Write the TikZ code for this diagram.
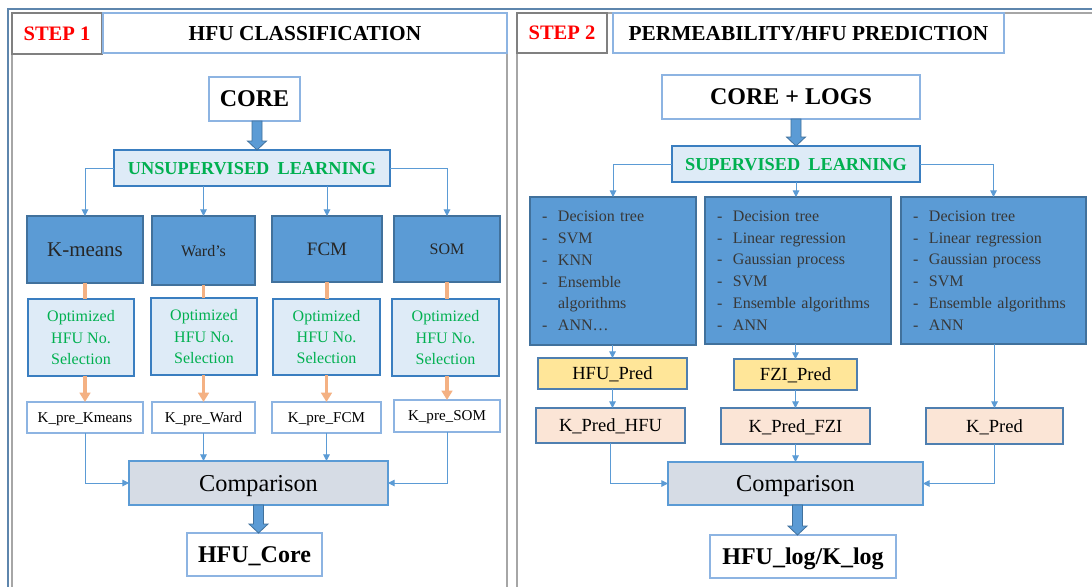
\documentclass[tikz,border=0pt]{standalone}
\usepackage{fontspec}
\setmainfont{Liberation Serif}
\usetikzlibrary{arrows.meta,calc}
\definecolor{bdark}{HTML}{5B9BD5}
\definecolor{bdarkline}{HTML}{41719C}
\definecolor{lightfill}{HTML}{DEEBF7}
\definecolor{midline}{HTML}{3A7EC0}
\definecolor{lightline}{HTML}{8DB4E2}
\definecolor{cmpfill}{HTML}{D6DCE5}
\definecolor{yellowfill}{HTML}{FFE699}
\definecolor{peach}{HTML}{FBE5D6}
\definecolor{predline}{HTML}{4F7FB0}
\definecolor{orangeln}{HTML}{F4B183}
\definecolor{greentxt}{HTML}{00B050}
\definecolor{connc}{HTML}{5B9BD5}
\definecolor{panelgray}{HTML}{A6A6A6}
\definecolor{stepgray}{HTML}{808080}
\definecolor{outerblue}{HTML}{5E86AD}
\newcommand\boxat[7]{\node[#6, minimum width={(#4-#2)*0.75pt}, minimum height={(#5-#3)*0.75pt}] (#1) at ({(#2+#4)/2},{(#3+#5)/2}) {#7};}
\newcommand\blockarr[2]{\filldraw[barrow] ($(#1)+(-5,0)$) -- ($(#2)+(-5,-9)$) -- ($(#2)+(-9.5,-9)$) -- (#2) -- ($(#2)+(9.5,-9)$) -- ($(#2)+(5,-9)$) -- ($(#1)+(5,0)$) -- cycle;}
\newcommand\li[1]{\makebox[12pt][l]{-}#1}
\tikzset{
  base0/.style={draw, inner sep=0pt, outer sep=0pt, line width=0.9pt, text=black},
  base/.style={base0, text depth=0pt},
  stepbox/.style={base, draw=stepgray, line width=0.8pt, text=red, font=\fontsize{15.4}{18}\selectfont\bfseries},
  titlebox/.style={base, fill=white, draw=lightline, font=\fontsize{16}{18}\selectfont\bfseries},
  wbig/.style={base, fill=white, draw=lightline, font=\fontsize{18}{22}\selectfont\bfseries},
  learn/.style={base, fill=lightfill, draw=midline, line width=1.1pt, text=greentxt, font=\fontsize{13.7}{17}\selectfont\bfseries},
  dark/.style={base, fill=bdark, draw=bdarkline, text=black!85},
  optbox/.style={base, fill=lightfill, draw=midline, text=greentxt, align=center, font=\fontsize{12}{16}\selectfont},
  kpre/.style={base, fill=white, draw=lightline, font=\fontsize{11.3}{14}\selectfont},
  cmp/.style={base, fill=cmpfill, draw=bdark, font=\fontsize{18.2}{22}\selectfont},
  listbox/.style={base0, fill=bdark, draw=bdarkline, align=left, text=black!78, font=\fontsize{12}{16.3}\selectfont},
  ypred/.style={base, fill=yellowfill, draw=predline, font=\fontsize{13.9}{17}\selectfont},
  kpred/.style={base, fill=peach, draw=predline, font=\fontsize{13.9}{17}\selectfont},
  conn/.style={draw=connc, line width=0.75pt, -{Triangle[length=5pt,width=5pt]}},
  oline/.style={draw=orangeln, line width=2.6pt},
  oarrow/.style={oline, -{Triangle[length=7pt,width=8pt]}},
  barrow/.style={fill=bdark, draw=bdarkline, line width=0.6pt},
}
\begin{document}
\begin{tikzpicture}[x=0.75pt, y=-0.75pt]
\useasboundingbox (0,0) rectangle (1092,586);
\clip (0,0) rectangle (1092,586);
\fill[white] (0,0) rectangle (1092,586);
% frames
\draw[outerblue, line width=1.5pt] (8,600) -- (8,9) -- (1100,9);
\draw[panelgray, line width=1pt] (12,600) -- (12,13) -- (507,13) -- (507,600);
\draw[panelgray, line width=1.6pt] (517,600) -- (517,13) -- (1100,13);
% ---------- STEP 1 ----------
\boxat{step1}{12}{13}{102}{54}{stepbox}{STEP 1}
\boxat{title1}{103}{13}{507}{53}{titlebox}{HFU CLASSIFICATION}
\boxat{core}{209}{77}{300}{121}{wbig}{CORE}
\boxat{unsup}{114}{150}{390}{186}{learn}{UNSUPERVISED\hspace{0.45em}LEARNING}
\boxat{kmeans}{27}{216}{143}{283}{dark, font=\fontsize{15.75}{18}\selectfont}{K-means}
\boxat{ward}{152}{216}{255}{285}{dark, font=\fontsize{12}{14}\selectfont}{Ward’s}
\boxat{fcm}{272}{216}{382}{282}{dark, font=\fontsize{14.25}{17}\selectfont}{FCM}
\boxat{som}{394}{216}{500}{282}{dark, font=\fontsize{12}{14}\selectfont}{SOM}
\boxat{opt1}{28}{299}{134}{376}{optbox}{Optimized\\HFU No.\\Selection}
\boxat{opt2}{151}{298}{257}{375}{optbox}{Optimized\\HFU No.\\Selection}
\boxat{opt3}{273}{299}{380}{375}{optbox}{Optimized\\HFU No.\\Selection}
\boxat{opt4}{392}{299}{499}{376}{optbox}{Optimized\\HFU No.\\Selection}
\boxat{kpre1}{27}{402}{143}{433}{kpre}{K\_pre\_Kmeans}
\boxat{kpre2}{152}{402}{255}{433}{kpre}{K\_pre\_Ward}
\boxat{kpre3}{272}{402}{381}{433}{kpre}{K\_pre\_FCM}
\boxat{kpre4}{394}{400}{500}{432}{kpre}{K\_pre\_SOM}
\boxat{comp1}{129}{461}{388}{505}{cmp}{Comparison}
\boxat{hfucore}{187}{533}{322}{576}{wbig}{HFU\_Core}
% connectors step 1
\coordinate (a1s) at ($(unsup.north |- core.south)+(5,0)$);
\coordinate (a1e) at ($(unsup.north)+(5,0)$);
\blockarr{a1s}{a1e}
\draw[conn] (unsup.west) -| (kmeans.north);
\draw[conn] (unsup.east) -| (som.north);
\draw[conn] (unsup.south -| ward.north) -- (ward.north);
\draw[conn] (unsup.south -| fcm.north) -- (fcm.north);
\draw[oline] (kmeans.south) -- (kmeans.south |- opt1.north);
\draw[oline] (ward.south) -- (ward.south |- opt2.north);
\draw[oline] (fcm.south) -- (fcm.south |- opt3.north);
\draw[oline] (som.south) -- (som.south |- opt4.north);
\draw[oarrow] (kpre1.north |- opt1.south) -- (kpre1.north);
\draw[oarrow] (kpre2.north |- opt2.south) -- (kpre2.north);
\draw[oarrow] (kpre3.north |- opt3.south) -- (kpre3.north);
\draw[oarrow] (kpre4.north |- opt4.south) -- (kpre4.north);
\draw[conn] (kpre1.south) |- (comp1.west);
\draw[conn] (kpre2.south) -- (kpre2.south |- comp1.north);
\draw[conn] (kpre3.south) -- (kpre3.south |- comp1.north);
\draw[conn] (kpre4.south) |- (comp1.east);
\coordinate (a2s) at (comp1.south);
\coordinate (a2e) at (comp1.south |- hfucore.north);
\blockarr{a2s}{a2e}
% ---------- STEP 2 ----------
\boxat{step2}{517}{13}{607}{53}{stepbox}{STEP 2}
\boxat{title2}{613}{13}{1004}{53}{titlebox}{PERMEABILITY/HFU PREDICTION}
\boxat{core2}{662}{75}{920}{119}{wbig}{CORE + LOGS}
\boxat{sup}{672}{146}{920}{182}{learn}{SUPERVISED\hspace{0.45em}LEARNING}
\boxat{alg1}{530}{197}{696}{345}{listbox, text width=106.5pt}{\li{Decision tree}\\\li{SVM}\\\li{KNN}\\\li{Ensemble}\\\hspace*{12pt}algorithms\\\li{ANN…}}
\boxat{alg2}{705}{197}{891}{344}{listbox, text width=121.5pt}{\li{Decision tree}\\\li{Linear regression}\\\li{Gaussian process}\\\li{SVM}\\\li{Ensemble algorithms}\\\li{ANN}}
\boxat{alg3}{901}{197}{1086}{344}{listbox, text width=120.75pt}{\li{Decision tree}\\\li{Linear regression}\\\li{Gaussian process}\\\li{SVM}\\\li{Ensemble algorithms}\\\li{ANN}}
\boxat{hfupred}{538}{358}{687}{389}{ypred}{HFU\_Pred}
\boxat{fzipred}{734}{359}{857}{390}{ypred}{FZI\_Pred}
\boxat{kph}{536}{408}{685}{443}{kpred}{K\_Pred\_HFU}
\boxat{kpf}{721}{408}{870}{444}{kpred}{K\_Pred\_FZI}
\boxat{kp}{926}{408}{1063}{444}{kpred}{K\_Pred}
\boxat{comp2}{668}{462}{923}{505}{cmp}{Comparison}
\boxat{hfulog}{710}{535}{896}{578}{wbig}{HFU\_log/K\_log}
% connectors step 2
\coordinate (b1s) at (sup.north |- core2.south);
\coordinate (b1e) at (sup.north);
\blockarr{b1s}{b1e}
\draw[conn] (sup.west) -| (alg1.north);
\draw[conn] (sup.east) -| (alg3.north);
\draw[conn] (sup.south) -- (sup.south |- alg2.north);
\draw[conn] (hfupred.north |- alg1.south) -- (hfupred.north);
\draw[conn] (hfupred.south) -- (hfupred.south |- kph.north);
\draw[conn] (fzipred.north |- alg2.south) -- (fzipred.north);
\draw[conn] (fzipred.south) -- (fzipred.south |- kpf.north);
\draw[conn] (kp.north |- alg3.south) -- (kp.north);
\draw[conn] (kph.south) |- (comp2.west);
\draw[conn] (kpf.south) -- (kpf.south |- comp2.north);
\draw[conn] (kp.south) |- (comp2.east);
\coordinate (b2s) at ($(comp2.south)+(2,0)$);
\coordinate (b2e) at ($(comp2.south |- hfulog.north)+(2,0)$);
\blockarr{b2s}{b2e}
\end{tikzpicture}
\end{document}
